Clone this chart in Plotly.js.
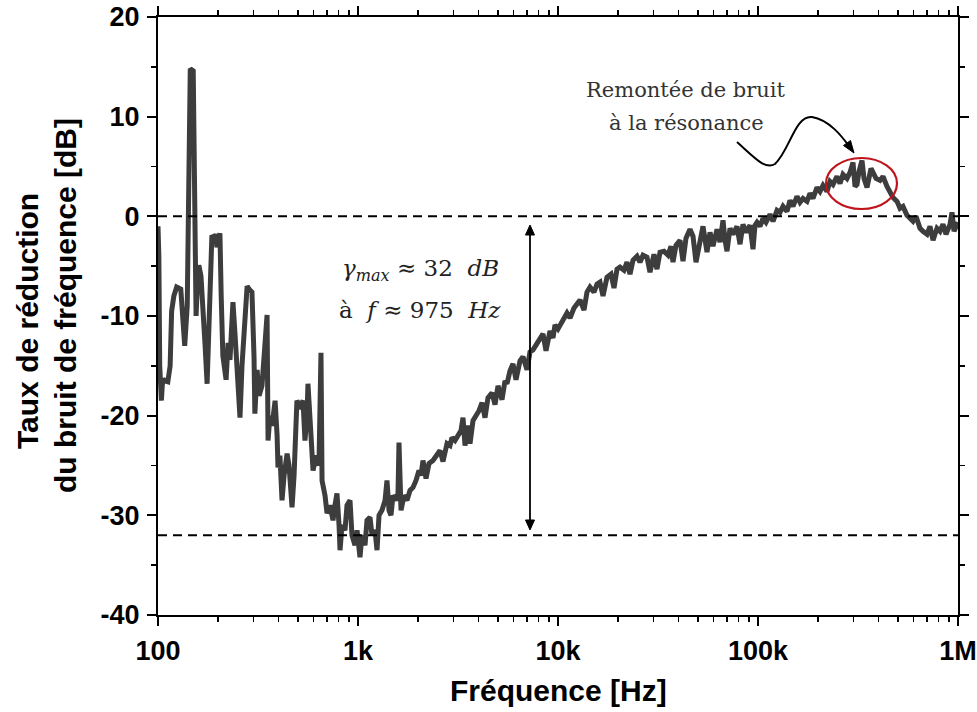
<!DOCTYPE html>
<html>
<head>
<meta charset="utf-8">
<script src="https://cdn.plot.ly/plotly-3.0.1.min.js"></script>
<style>html,body{margin:0;padding:0;background:#fff}#chart{width:977px;height:712px}</style>
</head>
<body>
<div id="chart"></div>
<script>
// Frequency (Hz) and noise reduction (dB)
var freqHz = [100,101,102,104,105,106,108,112,115,117,120,124,130,133,136,140,143,145,150,151,153,155,158,160,164,168,172,176,180,184,186,191,195,197,200,204,207,211,219,224,229,234,237,243,251,257,263,272,279,288,295,302,305,313,320,331,343,351,355,363,372,385,394,398,407,417,427,442,452,468,479,495,513,531,543,556,562,575,596,617,638,653,661,684,700,724,750,767,785,804,813,832,861,881,912,933,966,989,
1023,1047,1084,1109,1148,1175,1216,1245,1274,1318,1365,1396,1429,1462,1496,1549,1585,1603,1641,1698,1758,1820,1884,1950,2018,2065,2113,2188,2265,2371,2455,2570,2661,2786,2884,2951,3055,3162,3273,3350,3428,3548,3631,3758,3890,4027,4169,4315,4467,4677,4842,5012,5248,5433,5559,5754,5957,6166,6457,6683,6998,7244,7499,7852,8128,8414,8710,9120,9441,9661,
10000,10471,11092,11482,12023,12445,12882,13490,13964,14454,15136,15668,16218,16788,17579,18408,19055,19724,20417,21380,22131,22909,23714,24831,25704,26607,27861,28840,30200,31261,32359,33884,35481,36728,37584,38905,40738,42170,43652,45709,47315,48978,51286,53088,55590,57544,59566,62373,64565,66834,68391,69984,72444,74989,78524,81283,84140,87096,91201,94406,96605,98855,
102330,105930,109650,114820,118850,124450,128820,133350,139640,144540,149620,156680,162180,167880,175790,181970,188360,197240,204170,211350,221310,229090,237140,248310,257040,266070,278610,288400,298540,305490,312610,319890,331130,338840,350750,358920,367280,375840,389050,407380,421700,441570,457090,473150,495450,512860,530880,555900,575440,595660,616600,645650,668340,699840,724440,749890,785240,812830,841400,870960,912010,933250,954990,977240,1000000];

var reductionDb = [-1.0,-4,-15,-18.5,-17,-16.3,-16.5,-16.6,-15,-9.5,-8,-7.1,-7.3,-10,-13,-9,5,14.8,14.6,8,-5,-10,-6,-4.9,-6,-9,-13,-16.8,-10,-3,-1.9,-2.2,-1.8,-3.1,-2.5,-1.7,-8,-14,-16.4,-12.7,-14.4,-10,-8.6,-12,-17.8,-20.2,-15,-9,-7,-7.4,-7.6,-14,-19.8,-15.4,-18,-17,-12,-9.9,-22.5,-20,-21,-18.5,-22,-25.2,-24,-28.5,-26,-23.8,-25,-29.2,-26,-18.5,-19,-18.5,-22.5,-20,-16.8,-21,-25.5,-24,-25,-13.7,-26.5,-28,-29.8,-29,-30.5,-29,-27.8,-31,-33.5,-31,-31.5,-29,-28.5,-32,-33,-31.5,
-34.2,-32,-33,-30.5,-30.2,-32,-31.5,-33.5,-30,-29.5,-28.5,-26.5,-29.5,-30,-28,-28.5,-27.8,-22.7,-29.5,-28,-28.5,-27.5,-27.2,-26.5,-25.5,-26,-24.5,-26.3,-24.8,-24.5,-24,-23.5,-24.6,-22.8,-23,-22.2,-22.5,-22,-21.5,-20.2,-23.0,-21,-22.8,-20.5,-20,-19.5,-18.7,-20.2,-18.2,-17.7,-18.9,-17,-18.4,-16.5,-16.8,-15.5,-14.8,-16.4,-14.5,-14.1,-15.4,-13.6,-13.4,-12.8,-12.4,-11.8,-13.5,-11.5,-12.2,-10.9,
-11.3,-10.5,-9.7,-10.2,-9.2,-8.8,-8.4,-9.4,-7.6,-7.1,-7.6,-6.8,-6.6,-8.0,-6.1,-5.8,-7.2,-5.3,-5.1,-5.4,-4.6,-5.8,-4.4,-4.0,-4.6,-3.9,-4.1,-5.6,-3.8,-5.3,-3.6,-3.5,-3.9,-3.0,-4.6,-2.9,-2.4,-4.5,-2.2,-1.3,-2.0,-4.6,-2.1,-1.0,-3.6,-1.6,-3.0,-1.3,-2.6,-0.4,-2.4,-3.5,-1.2,-1.8,-1.0,-2.8,-0.8,-1.6,-0.9,-3.3,-0.9,-0.6,
-1.0,-0.2,-0.6,0.2,-0.5,0.6,0.4,1.0,0.5,1.6,1.0,2.0,1.4,1.8,1.5,2.3,1.8,2.9,2.5,3.1,2.5,3.5,3.2,4.0,3.3,4.2,3.8,4.4,5.4,3.0,3.2,4.5,5.6,3.8,2.9,4.0,4.8,4.4,3.8,3.6,4.0,3.0,2.4,1.9,1.5,0.8,1.0,0.1,-0.2,-0.5,0.0,-1.2,-1.5,-1.8,-1.0,-2.4,-1.2,-1.5,-0.8,-1.8,-0.8,0.4,-1.5,-1.0,-0.6];

var xTickVals = [100, 1000, 10000, 100000, 1000000];
var xTickText = ['100', '1k', '10k', '100k', '1M'];
var yTickVals = [-40, -30, -20, -10, 0, 10, 20];
var yTickText = ['-40', '-30', '-20', '-10', '0', '10', '20'];
var refLevels = [0, -32];          // dashed reference lines (dB)
var arrowFreq = 7244;              // frequency of the vertical double arrow (Hz)
var arrowTop = -1.3, arrowBottom = -30.9;

var minorX = [];
[100, 1000, 10000, 100000].forEach(function (d) {
  for (var k = 2; k <= 9; k++) minorX.push(d * k);
});

var trace = {
  x: freqHz, y: reductionDb, type: 'scatter', mode: 'lines',
  line: {color: '#3d3d3d', width: 5, shape: 'linear'},
  hoverinfo: 'x+y', showlegend: false
};

var sans = 'Liberation Sans, Arial, sans-serif';
var tickFont = {family: sans, size: 27, color: '#000', weight: 'bold'};
var titleFont = {family: sans, size: 30, color: '#000'};
var serif = 'DejaVu Serif, Liberation Serif, serif';

function px(x) { return (x - 158) / 800; }
function py(y) { return (615 - y) / 598; }
function pt(x, y) { return px(x) + ',' + py(y); }

var shapes = refLevels.map(function (v) {
  return {type: 'line', xref: 'paper', yref: 'y', x0: 0, x1: 1, y0: v, y1: v,
          line: {color: '#000', width: 2, dash: '9px,6px'}};
});
// vertical double arrow shaft
shapes.push({type: 'line', xref: 'x', yref: 'y', x0: arrowFreq, x1: arrowFreq, y0: arrowBottom, y1: arrowTop,
             line: {color: '#000', width: 1.8}});
// arrow heads (decoration)
shapes.push({type: 'path', xref: 'paper', yref: 'paper',
             path: 'M ' + pt(530, 225) + ' L ' + pt(525.5, 235) + ' L ' + pt(534.5, 235) + ' Z',
             fillcolor: '#000', line: {color: '#000', width: 1}});
shapes.push({type: 'path', xref: 'paper', yref: 'paper',
             path: 'M ' + pt(530, 530) + ' L ' + pt(525.5, 520) + ' L ' + pt(534.5, 520) + ' Z',
             fillcolor: '#000', line: {color: '#000', width: 1}});
shapes.push({
  type: 'circle', xref: 'paper', yref: 'paper',
  x0: px(826), x1: px(897), y0: py(209), y1: py(158),
  line: {color: '#c0141c', width: 2.2}
});
shapes.push({
  type: 'path', xref: 'paper', yref: 'paper',
  path: 'M ' + pt(737, 142) +
        ' C ' + pt(755, 158) + ' ' + pt(765, 170) + ' ' + pt(775, 164) +
        ' C ' + pt(790, 150) + ' ' + pt(795, 115) + ' ' + pt(812, 117) +
        ' C ' + pt(830, 120) + ' ' + pt(843, 138) + ' ' + pt(849, 146),
  line: {color: '#000', width: 2}
});
shapes.push({type: 'path', xref: 'paper', yref: 'paper',
             path: 'M ' + pt(854, 153) + ' L ' + pt(850.5, 140.5) + ' L ' + pt(843.5, 145.5) + ' Z',
             fillcolor: '#000', line: {color: '#000', width: 1}});

var annotations = [
  {xref: 'paper', yref: 'paper', x: px(420), y: py(270), xanchor: 'center', yanchor: 'middle',
   text: '<i>γ<sub>max</sub></i> ≈ 32  <i>dB</i>', showarrow: false,
   font: {family: serif, size: 23, color: '#222'}},
  {xref: 'paper', yref: 'paper', x: px(420), y: py(310), xanchor: 'center', yanchor: 'middle',
   text: 'à  <i>f</i> ≈ 975  <i>Hz</i>', showarrow: false,
   font: {family: serif, size: 23, color: '#222'}},
  {xref: 'paper', yref: 'paper', x: px(686), y: py(90), xanchor: 'center', yanchor: 'middle',
   text: 'Remontée de bruit', showarrow: false, font: {family: serif, size: 21, color: '#333'}},
  {xref: 'paper', yref: 'paper', x: px(686), y: py(123), xanchor: 'center', yanchor: 'middle',
   text: 'à la résonance', showarrow: false, font: {family: serif, size: 21, color: '#333'}},
  {xref: 'paper', yref: 'paper', x: px(27), y: py(321), xanchor: 'center', yanchor: 'middle',
   textangle: -90, text: '<b>Taux de réduction</b>', showarrow: false, font: titleFont},
  {xref: 'paper', yref: 'paper', x: px(65), y: py(306), xanchor: 'center', yanchor: 'middle',
   textangle: -90, text: '<b>du bruit de fréquence [dB]</b>', showarrow: false, font: titleFont},
  {xref: 'paper', yref: 'paper', x: px(558), y: py(690), xanchor: 'center', yanchor: 'middle',
   text: '<b>Fréquence [Hz]</b>', showarrow: false, font: titleFont}
];

var layout = {
  width: 977, height: 712,
  margin: {l: 158, r: 19, t: 17, b: 97},
  paper_bgcolor: '#fff', plot_bgcolor: '#fff',
  showlegend: false,
  xaxis: {
    type: 'log', range: [2, 6], tickvals: xTickVals, ticktext: xTickText,
    ticks: 'outside', ticklen: 9, tickwidth: 2, tickcolor: '#000',
    showline: true, linewidth: 2, linecolor: '#000', mirror: 'ticks',
    showgrid: false, zeroline: false,
    tickfont: tickFont, ticklabelstandoff: 2,
    minor: {tickvals: minorX, ticks: 'outside', ticklen: 5, tickwidth: 1.5, tickcolor: '#000', showgrid: false}
  },
  yaxis: {
    range: [-40, 20], tickvals: yTickVals, ticktext: yTickText,
    ticks: 'outside', ticklen: 9, tickwidth: 2, tickcolor: '#000',
    showline: true, linewidth: 2, linecolor: '#000', mirror: 'ticks',
    showgrid: false, zeroline: false,
    tickfont: tickFont, ticklabelstandoff: 2,
    minor: {dtick: 5, ticks: 'outside', ticklen: 5, tickwidth: 1.5, tickcolor: '#000', showgrid: false}
  },
  shapes: shapes,
  annotations: annotations
};

Plotly.newPlot('chart', [trace], layout, {displayModeBar: false, staticPlot: true});
</script>
</body>
</html>
